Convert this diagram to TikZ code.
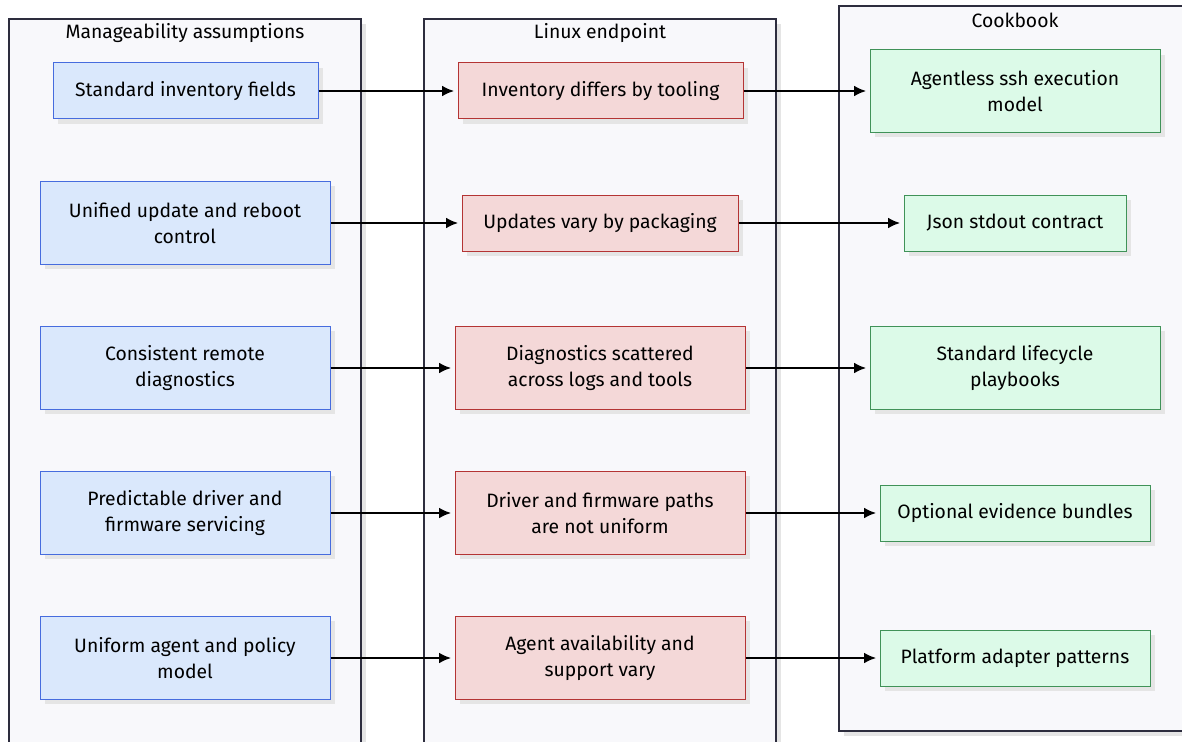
\documentclass[tikz,border=0pt]{standalone}
\usepackage{fontspec}
\setmainfont{Fira Sans}
\usetikzlibrary{shadows, arrows.meta}

\definecolor{groupfill}{RGB}{248,248,251}
\definecolor{groupline}{RGB}{45,45,62}
\definecolor{assumefill}{RGB}{218,232,252}
\definecolor{assumeline}{RGB}{70,108,222}
\definecolor{linuxfill}{RGB}{244,216,216}
\definecolor{linuxline}{RGB}{180,52,52}
\definecolor{cookfill}{RGB}{220,250,232}
\definecolor{cookline}{RGB}{64,146,88}

\begin{document}
\begin{tikzpicture}[x=0.75pt, y=-0.75pt, font=\fontsize{14.5}{19.5}\selectfont]

    \tikzset{shade/.style={drop shadow={shadow xshift=3.5pt, shadow yshift=-3.5pt, fill=black!10, opacity=1}}}
    \tikzset{group/.style={draw=groupline, fill=groupfill, line width=1.5pt, shade}}
    \tikzset{box/.style={rectangle, align=center, inner sep=0pt, line width=0.75pt, shade,
      minimum width=217.5pt, minimum height=62.25pt}}
    \tikzset{assume/.style={box, draw=assumeline, fill=assumefill}}
    \tikzset{linux/.style={box, draw=linuxline, fill=linuxfill}}
    \tikzset{cook/.style={box, draw=cookline, fill=cookfill}}
    \tikzset{flow/.style={-{Latex[length=9pt, width=8pt]}, line width=1.5pt, shorten >=2.5pt}}

    \useasboundingbox (0,0) rectangle (1182,742);
    \clip (0,0) rectangle (1182,742);

    % the three columns
    \draw[group] (9,19) rectangle (361,770);
    \node (tassume) at (185,33) {Manageability assumptions};

    \draw[group] (424,19) rectangle (776,770);
    \node (tlinux) at (600,33) {Linux endpoint};

    \draw[group] (839,6) rectangle (1195,731);
    \node (tcook) at (1015,20) {Cookbook};

    % assumptions
    \node[assume, minimum width=198.75pt, minimum height=42pt] (a1) at (185.5,91) {Standard inventory fields};
    \node[assume] (a2) at (185,223) {Unified update and reboot\\control};
    \node[assume] (a3) at (185,368) {Consistent remote\\diagnostics};
    \node[assume] (a4) at (185,513) {Predictable driver and\\firmware servicing};
    \node[assume] (a5) at (185,658) {Uniform agent and policy\\model};

    % linux endpoint
    \node[linux, minimum width=213.75pt, minimum height=42pt] (l1) at (600.5,91) {Inventory differs by tooling};
    \node[linux, minimum width=207pt, minimum height=42pt] (l2) at (600,223) {Updates vary by packaging};
    \node[linux] (l3) at (600,368) {Diagnostics scattered\\across logs and tools};
    \node[linux] (l4) at (600,513) {Driver and firmware paths\\are not uniform};
    \node[linux] (l5) at (600,658) {Agent availability and\\support vary};

    % cookbook
    \node[cook, minimum height=61.5pt] (c1) at (1015,91) {Agentless ssh execution\\model};
    \node[cook, minimum width=166.5pt, minimum height=42pt] (c2) at (1015,223) {Json stdout contract};
    \node[cook] (c3) at (1015,368) {Standard lifecycle\\playbooks};
    \node[cook, minimum width=202.5pt, minimum height=42pt] (c4) at (1015,513) {Optional evidence bundles};
    \node[cook, minimum width=202.5pt, minimum height=42pt] (c5) at (1015,658) {Platform adapter patterns};

    % connectors
    \foreach \i in {1,...,5} {
      \draw[flow] (a\i) -- (l\i);
      \draw[flow] (l\i) -- (c\i);
    }

\end{tikzpicture}
\end{document}
